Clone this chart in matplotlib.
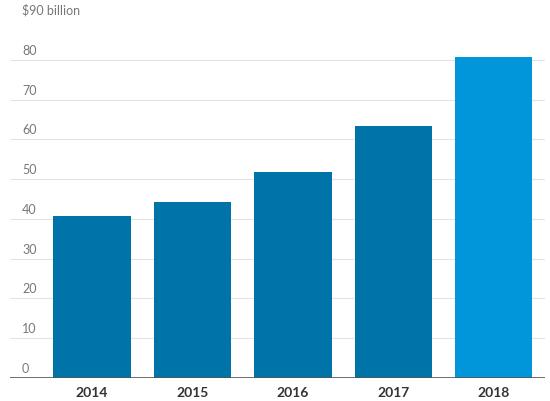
import matplotlib
matplotlib.use("Agg")
import matplotlib.pyplot as plt
from matplotlib.transforms import blended_transform_factory

years = ["2014", "2015", "2016", "2017", "2018"]
values = [40.6, 44.2, 51.8, 63.3, 80.6]
colors = ["#0074a8", "#0074a8", "#0074a8", "#0074a8", "#0096d9"]
yticks = [0, 10, 20, 30, 40, 50, 60, 70, 80, 90]
ylabels = ["0", "10", "20", "30", "40", "50", "60", "70", "80", "$90 billion"]

fig = plt.figure(figsize=(5.5, 4.02), dpi=100)
ax = fig.add_axes([10/550, 23/402, 535/550, 364/402])
x = list(range(len(years)))
ax.bar(x, values, width=0.77, color=colors, zorder=2)
ax.set_xlim(-0.816, 4.51)
ax.set_ylim(0, 91.5)
for t in yticks[1:-1]:
    ax.axhline(t, color="#e3e3e3", lw=0.8, zorder=1)
ax.axhline(0, color="#555555", lw=1.2, zorder=3)
tr = blended_transform_factory(ax.transAxes, ax.transData)
for t, l in zip(yticks, ylabels):
    ax.text(12/535, t + 1.0, l, transform=tr, fontsize=9, color="#777777",
            ha="left", va="bottom", family="Lato", zorder=4)
ax.set_xticks(x)
ax.set_xticklabels(years, fontsize=10, fontweight="bold", color="#333333", family="Lato")
ax.tick_params(axis="x", length=0, pad=6)
ax.set_yticks([])
for s in ax.spines.values():
    s.set_visible(False)
fig.savefig("out.png", dpi=100)
